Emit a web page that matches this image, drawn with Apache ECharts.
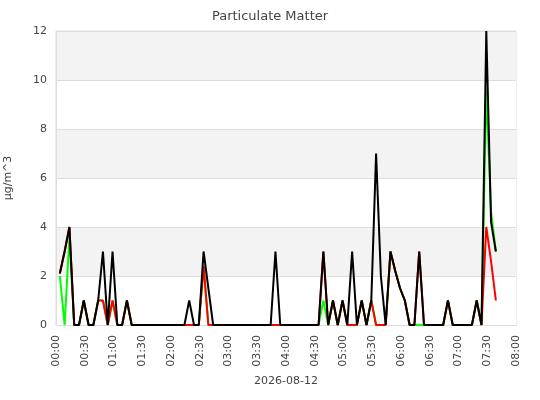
<!DOCTYPE html>
<html>
<head>
<meta charset="utf-8">
<script src="https://cdn.jsdelivr.net/npm/echarts@6/dist/echarts.min.js"></script>
<style>
  html, body { margin: 0; padding: 0; background: #fff; }
  #chart { width: 540px; height: 400px; }
</style>
</head>
<body>
<div id="chart"></div>
<script>
// sample times (HH:MM on 2026-08-12), one reading every 5 minutes
const times = [
  '00:04','00:09','00:14','00:19','00:24','00:29','00:34','00:39','00:44','00:49',
  '00:54','00:59','01:04','01:09','01:14','01:19','01:24','01:29','01:34','01:39',
  '01:44','01:49','01:54','01:59','02:04','02:09','02:14','02:19','02:24','02:29',
  '02:34','02:39','02:44','02:49','02:54','02:59','03:04','03:09','03:14','03:19',
  '03:24','03:29','03:34','03:39','03:44','03:49','03:54','03:59','04:04','04:09',
  '04:14','04:19','04:24','04:29','04:34','04:39','04:44','04:49','04:54','04:59',
  '05:04','05:09','05:14','05:19','05:24','05:29','05:34','05:39','05:44','05:49',
  '05:54','05:59','06:04','06:09','06:14','06:19','06:24','06:29','06:34','06:39',
  '06:44','06:49','06:54','06:59','07:04','07:09','07:14','07:19','07:24','07:29',
  '07:34','07:39'
];

// green trace
const greenVals = [
  2, 0, 3.6, 0, 0, 1, 0, 0, 1, 1,
  0, 1, 0, 0, 1, 0, 0, 0, 0, 0,
  0, 0, 0, 0, 0, 0, 0, 0, 0, 0,
  2.4, 0, 0, 0, 0, 0, 0, 0, 0, 0,
  0, 0, 0, 0, 0, 0, 0, 0, 0, 0,
  0, 0, 0, 0, 0, 1, 0, 1, 0, 1,
  0, 0, 0, 1, 0, 1, 0, 0, 0, 3,
  2.2, 1.5, 1, 0, 0, 0, 0, 0, 0, 0,
  0, 1, 0, 0, 0, 0, 0, 1, 0, 9.6,
  4.6, 3
];

// red trace
const redVals = [
  2.1, 3, 4, 0, 0, 1, 0, 0, 1, 1,
  0, 1, 0, 0, 1, 0, 0, 0, 0, 0,
  0, 0, 0, 0, 0, 0, 0, 0, 0, 0,
  2.4, 0, 0, 0, 0, 0, 0, 0, 0, 0,
  0, 0, 0, 0, 0, 0, 0, 0, 0, 0,
  0, 0, 0, 0, 0, 3, 0, 1, 0, 1,
  0, 0, 0, 1, 0, 1, 0, 0, 0, 3,
  2.2, 1.5, 1, 0, 0, 3, 0, 0, 0, 0,
  0, 1, 0, 0, 0, 0, 0, 1, 0, 4,
  2.6, 1
];

// black trace
const blackVals = [
  2.1, 3, 4, 0, 0, 1, 0, 0, 1, 3,
  0, 3, 0, 0, 1, 0, 0, 0, 0, 0,
  0, 0, 0, 0, 0, 0, 0, 1, 0, 0,
  3, 1.5, 0, 0, 0, 0, 0, 0, 0, 0,
  0, 0, 0, 0, 0, 3, 0, 0, 0, 0,
  0, 0, 0, 0, 0, 3, 0, 1, 0, 1,
  0, 3, 0, 1, 0, 1, 7, 2, 0, 3,
  2.2, 1.5, 1, 0, 0, 3, 0, 0, 0, 0,
  0, 1, 0, 0, 0, 0, 0, 1, 0, 12,
  4.2, 3
];

const yTicks = [0, 2, 4, 6, 8, 10, 12];

function toMin(s) {
  const p = s.split(':');
  return +p[0] * 60 + +p[1];
}
function pairs(vals) {
  return times.map((t, i) => [toMin(t), vals[i]]);
}
function pad(n) { return (n < 10 ? '0' : '') + n; }

const font = 'DejaVu Sans';
const chart = echarts.init(document.getElementById('chart'));

const lineSeries = (name, color, vals) => ({
  name: name,
  type: 'line',
  data: pairs(vals),
  showSymbol: false,
  symbol: 'none',
  lineStyle: { color: color, width: 2 },
  itemStyle: { color: color },
  animation: false
});

chart.setOption({
  animation: false,
  title: {
    text: 'Particulate Matter',
    left: 'center',
    top: 5,
    textStyle: { fontFamily: font, fontSize: 13, fontWeight: 'normal', color: '#444' }
  },
  grid: {
    left: 56, right: 24, top: 31, bottom: 75,
    show: true, borderColor: '#ddd', borderWidth: 1,
    outerBoundsMode: 'none'
  },
  xAxis: {
    type: 'value',
    min: 0, max: 480, interval: 30,
    name: '2026-08-12',
    nameLocation: 'middle',
    nameGap: 51,
    nameTextStyle: { fontFamily: font, fontSize: 11, color: '#444' },
    axisLine: { lineStyle: { color: '#ddd' } },
    axisTick: { show: false },
    splitLine: { show: false },
    axisLabel: {
      rotate: 90,
      margin: 10,
      fontFamily: font, fontSize: 11, color: '#444',
      formatter: v => pad(Math.floor(v / 60)) + ':' + pad(v % 60)
    }
  },
  yAxis: {
    type: 'value',
    min: yTicks[0], max: yTicks[yTicks.length - 1], interval: 2,
    name: 'µg/m^3',
    nameLocation: 'middle',
    nameGap: 42,
    nameTextStyle: { fontFamily: font, fontSize: 11, color: '#444' },
    axisLine: { show: true, lineStyle: { color: '#ddd' } },
    axisTick: { show: false },
    axisLabel: { fontFamily: font, fontSize: 11, color: '#444', margin: 9 },
    splitLine: { lineStyle: { color: '#ddd' } },
    splitArea: { show: true, areaStyle: { color: ['#ffffff', '#f3f3f3'] } }
  },
  series: [
    lineSeries('PM2.5', '#00ff00', greenVals),
    lineSeries('PM1', '#ff0000', redVals),
    lineSeries('PM10', '#000000', blackVals)
  ]
});
</script>
</body>
</html>
